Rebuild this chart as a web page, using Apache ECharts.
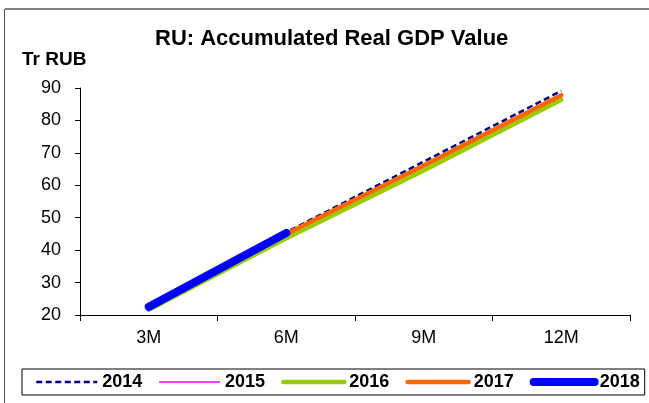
<!DOCTYPE html>
<html>
<head>
<meta charset="utf-8">
<script src="https://cdn.jsdelivr.net/npm/echarts@6/dist/echarts.min.js"></script>
<style>
  html, body { margin: 0; padding: 0; background: #ffffff; }
  #chart { width: 649px; height: 403px; }
</style>
</head>
<body>
<div id="chart"></div>
<script>
// Cumulative real GDP, trillion roubles, by period of the year
const periods = ['3M', '6M', '9M', '12M'];
const years = ['2014', '2015', '2016', '2017', '2018'];
const gdp2014 = [22.3, 45.5, 67.3, 89.1];
const gdp2015 = [22.0, 44.8, 66.3, 87.6];
const gdp2016 = [21.6, 43.7, 64.6, 86.4];
const gdp2017 = [22.1, 45.0, 66.1, 87.8];
const gdp2018 = [22.5, 45.3];
const yTicks = { min: 20, max: 90, step: 10 };

const FONT = '"Liberation Sans", Arial, sans-serif';

const seriesStyles = [
  { data: gdp2014, color: '#000080', width: 2.5, type: [6, 3.5], cap: 'butt' },
  { data: gdp2015, color: '#ff00ff', width: 1.5, type: 'solid', cap: 'butt' },
  { data: gdp2016, color: '#99cc00', width: 4.5, type: 'solid', cap: 'round' },
  { data: gdp2017, color: '#ff6600', width: 4.5, type: 'solid', cap: 'round' },
  { data: gdp2018, color: '#0000ff', width: 8, type: 'solid', cap: 'round' }
];

const chart = echarts.init(document.getElementById('chart'), null, { renderer: 'canvas' });

chart.setOption({
  animation: false,
  backgroundColor: '#ffffff',
  textStyle: { fontFamily: FONT },
  title: [
    {
      text: 'RU: Accumulated Real GDP Value',
      left: 155, top: 28, padding: 0,
      textStyle: { fontFamily: FONT, fontSize: 22, fontWeight: 'bold', color: '#000' }
    },
    {
      text: 'Tr RUB',
      left: 22, top: 50, padding: 0,
      textStyle: { fontFamily: FONT, fontSize: 19, fontWeight: 'bold', color: '#000' }
    }
  ],
  grid: { left: 80, right: 19, top: 88, bottom: 88, containLabel: false },
  xAxis: {
    type: 'category',
    data: periods,
    boundaryGap: true,
    axisLine: { lineStyle: { color: '#000', width: 1 } },
    axisTick: { show: true, length: 6, inside: false, alignWithLabel: false, lineStyle: { color: '#000' } },
    axisLabel: { fontFamily: FONT, fontSize: 18, color: '#000', margin: 14 },
    splitLine: { show: false }
  },
  yAxis: {
    type: 'value',
    min: yTicks.min, max: yTicks.max, interval: yTicks.step,
    axisLine: { show: true, lineStyle: { color: '#000', width: 1 } },
    axisTick: { show: true, length: 5, lineStyle: { color: '#000' } },
    axisLabel: { fontFamily: FONT, fontSize: 18, color: '#000', margin: 19 },
    splitLine: { show: false }
  },
  legend: {
    data: seriesStyles.map((s, i) => ({
      name: years[i],
      itemStyle: { opacity: 0, borderWidth: 0 },
      lineStyle: { width: s.width, type: s.type, cap: s.cap, color: s.color }
    })),
    left: 22, top: 369,
    orient: 'horizontal',
    itemWidth: 61, itemHeight: 16, itemGap: 16,
    padding: [4, 5, 4, 13],
    borderColor: '#000', borderWidth: 1,
    textStyle: { fontFamily: FONT, fontSize: 18, fontWeight: 'bold', color: '#000' }
  },
  series: seriesStyles.map((s, i) => ({
    name: years[i],
    type: 'line',
    data: s.data,
    symbol: 'none',
    showSymbol: false,
    z: 2 + i,
    lineStyle: { color: s.color, width: s.width, type: s.type, cap: s.cap, join: 'round' },
    itemStyle: { color: s.color }
  })),
  graphic: [
    // outer frame: grey top rule and thin left edge
    { type: 'rect', shape: { x: 5, y: 8, width: 644, height: 2 }, style: { fill: '#808080' }, silent: true },
    { type: 'rect', shape: { x: 4, y: 9, width: 1, height: 394 }, style: { fill: '#505050' }, silent: true }
  ]
});
</script>
</body>
</html>
